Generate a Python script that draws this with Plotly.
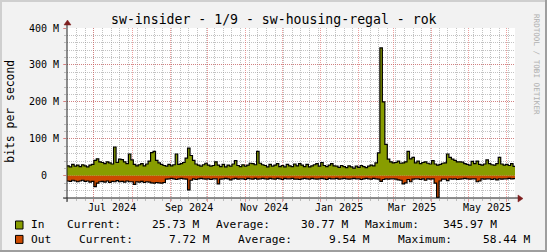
import pandas as pd
import plotly.graph_objects as go

# ---------------- data (values in Mbit/s, 2-day steps from 2024-06-09) ----------------
start_date = "2024-06-09"
in_vals = [27, 24, 31, 26, 29, 25, 30, 27, 24, 29, 31,
           42, 46, 38, 36, 33, 38, 35, 32,
           78, 36, 45, 44, 38, 33,
           59, 43, 31, 27, 30, 33, 27, 32, 40,
           63, 66, 42, 35, 31, 28, 26, 31, 27, 30,
           59, 31, 33, 36, 48,
           75, 55, 42, 32, 29, 26, 30, 34, 29, 26, 28,
           38, 29, 25, 31, 24, 29, 26, 32,
           41, 28, 25, 30, 26, 29, 34, 33, 30,
           66, 34, 30,
           28, 24, 31, 26, 29, 33, 25, 28, 24, 31, 27, 25, 32, 27,
           33,
           29, 25, 31, 24, 27, 30, 33, 26,
           36, 28, 25, 29, 33, 27,
           26, 23, 28, 25, 22, 27, 24, 21, 26, 23, 28, 25, 22, 26, 29, 27,
           35, 62, 345.97, 200, 85, 45, 38, 35, 36,
           40, 34, 35, 38, 66, 46, 50, 35, 40, 33, 36, 38, 34, 32,
           41, 32, 29, 31, 34, 35,
           59, 50, 45, 42, 38, 38, 37, 33, 31, 29,
           39, 33, 40, 31, 29, 32,
           43, 33, 30, 29, 33,
           50, 32, 29, 31, 28, 33, 25.73]
out_vals = [14, 15, 12, 14, 16, 14, 12, 15, 14, 17, 15,
            29, 20, 16, 15, 17, 14, 18, 15, 16, 13, 16, 15, 17, 14, 16, 16,
            23, 16, 17, 15, 18, 16, 17, 19, 20, 18, 19, 20, 18,
            9, 8, 7, 8, 10, 8, 7, 8, 9,
            38, 12,
            8, 10, 8, 7, 8, 9, 8,
            10, 8, 8, 22, 9,
            8, 7, 8, 11, 8, 7, 9, 8,
            8, 10,
            7, 8, 9, 7, 9, 8, 7, 8, 9, 7, 8, 9, 7, 8, 10, 7, 8, 8, 7, 9, 9,
            10,
            8, 7, 8, 9, 7, 8, 9, 8, 7, 8, 10, 7, 8, 8, 7, 9, 8, 7, 8, 9, 8, 7, 8, 8,
            10,
            8, 7, 8, 9, 7, 8, 9,
            15, 10,
            8, 9, 8, 8, 9,
            11, 12, 22, 19, 10, 16, 9,
            8, 8, 10, 8,
            12, 8, 9, 8,
            20, 58.44, 14,
            9, 9, 13,
            8, 9, 8, 10, 9, 8, 7, 8, 9, 8, 8,
            16, 14,
            8, 9, 8, 8, 10, 8,
            11,
            8, 9, 8, 8, 7, 8, 7.72]

series_names = ["In", "Out"]
legend_current = ["25.73 M", "7.72 M"]
legend_average = ["30.77 M", "9.54 M"]
legend_maximum = ["345.97 M", "58.44 M"]

y_tick_vals = [0, 100, 200, 300, 400]
y_tick_text = ["0\u00a0\u00a0", "100 M", "200 M", "300 M", "400 M"]
x_label_text = ["Jul 2024", "Sep 2024", "Nov 2024", "Jan 2025", "Mar 2025", "May 2025"]
x_label_months = ["2024-07-01", "2024-09-01", "2024-11-01", "2025-01-01", "2025-03-01", "2025-05-01"]

title_text = "sw-insider - 1/9 - sw-housing-regal - rok"
y_title = "bits per second"
watermark = "RRDTOOL / TOBI OETIKER"

# ---------------- styling ----------------
W, H = 547, 252
ML, MR, MT, MB = 67, 32, 28, 54
PW, PH = W - ML - MR, H - MT - MB
IN_COLOR = "#889D00"
OUT_COLOR = "#CC4A00"
BACK = "#F2F2F2"
SHADEA = "#CFCFCF"
SHADEB = "#9E9E9E"
GRID = "rgba(143,143,143,0.55)"
MGRID = "rgba(222,79,79,0.55)"
ARROW = "#7F1F1F"
AXIS = "#1F1F1F"
MONO = "DejaVu Sans Mono"


def px_x(p):
    return (p - ML) / PW


def px_y(p):
    return (H - MB - p) / PH


def steps(vals, sign=1):
    d = list(pd.date_range(start_date, periods=len(vals), freq="2D"))
    d.append(d[-1] + pd.Timedelta(days=2))
    v = [sign * x for x in vals] + [sign * vals[-1]]
    return d, v


fig = go.Figure()
for vals, sign, col in [(in_vals, 1, IN_COLOR), (out_vals, -1, OUT_COLOR)]:
    xd, yv = steps(vals, sign)
    fig.add_trace(go.Scatter(x=xd, y=yv, mode="lines",
                             line=dict(color="black", width=1.2, shape="hv"),
                             fill="tozeroy", fillcolor=col, hoverinfo="skip"))

month_starts = pd.date_range("2024-07-01", "2025-06-01", freq="MS")

fig.update_layout(
    width=W, height=H, autosize=False,
    margin=dict(l=ML, r=MR, t=MT, b=MB, pad=0),
    paper_bgcolor=BACK, plot_bgcolor="white",
    showlegend=False,
    xaxis=dict(
        type="date",
        range=["2024-06-09 05:00", "2025-06-07 14:00"],
        tickmode="array", tickvals=list(month_starts), ticktext=[""] * len(month_starts),
        showgrid=True, gridcolor=MGRID, griddash="1px,1px", gridwidth=1,
        ticks="outside", ticklen=3, tickcolor=MGRID,
        minor=dict(tick0="2024-07-01", dtick=7 * 86400000, showgrid=True,
                   gridcolor=GRID, griddash="1px,1px", ticks="outside", ticklen=2, tickcolor=GRID),
        showline=False, zeroline=False, fixedrange=True,
    ),
    yaxis=dict(
        range=[-60, 400],
        tickmode="array", tickvals=y_tick_vals, ticktext=y_tick_text,
        showgrid=True, gridcolor=MGRID, griddash="1px,1px", gridwidth=1,
        ticks="outside", ticklen=3, tickcolor=MGRID, ticklabelstandoff=2,
        tickfont=dict(family=MONO, size=10, color="black"),
        minor=dict(tick0=0, dtick=20, showgrid=True, gridcolor=GRID, griddash="1px,1px",
                   ticks="outside", ticklen=2, tickcolor=GRID),
        showline=False, zeroline=False, fixedrange=True,
    ),
)

annotations = []
for lab, m in zip(x_label_text, x_label_months):
    annotations.append(dict(x=pd.Timestamp(m) + pd.Timedelta(days=15), y=px_y(207.5),
                            xref="x", yref="paper", text=lab, showarrow=False,
                            xanchor="center", yanchor="middle", borderpad=0, borderwidth=0,
                            font=dict(family=MONO, size=10, color="black")))
annotations.append(dict(x=px_x(273.5), y=px_y(19.5), xref="paper", yref="paper", text=title_text,
                        showarrow=False, xanchor="center", yanchor="middle", borderpad=0, borderwidth=0,
                        font=dict(family=MONO, size=13.2, color="black")))
annotations.append(dict(x=px_x(10), y=px_y(111.7), xref="paper", yref="paper", text=y_title,
                        showarrow=False, textangle=-90, xanchor="center", yanchor="middle",
                        borderpad=0, borderwidth=0,
                        font=dict(family=MONO, size=11.4, color="black")))
annotations.append(dict(x=px_x(536.5), y=px_y(64.5), xref="paper", yref="paper", text=watermark,
                        showarrow=False, textangle=90, xanchor="center", yanchor="middle",
                        borderpad=0, borderwidth=0,
                        font=dict(family=MONO, size=7.6, color="#B0B0B0")))

row_y = [225.0, 239.4]
left_cols = [[(30.7, "name"), (67.3, "Current:"), (216.3, "Average:"), (365.3, "Maximum:")],
             [(30.7, "name"), (78.5, "Current:"), (238.3, "Average:"), (397.8, "Maximum:")]]
right_cols = [[199.0, 348.2, 497.2], [210.4, 369.9, 530.4]]
shapes = []
for r in range(2):
    vals_r = [legend_current[r], legend_average[r], legend_maximum[r]]
    for xpos, txt in left_cols[r]:
        t = series_names[r] if txt == "name" else txt
        annotations.append(dict(x=px_x(xpos), y=px_y(row_y[r]), xref="paper", yref="paper", text=t,
                                showarrow=False, xanchor="left", yanchor="middle", borderpad=0, borderwidth=0,
                                font=dict(family=MONO, size=11.2, color="black")))
    for xpos, t in zip(right_cols[r], vals_r):
        annotations.append(dict(x=px_x(xpos), y=px_y(row_y[r]), xref="paper", yref="paper", text=t,
                                showarrow=False, xanchor="right", yanchor="middle", borderpad=0, borderwidth=0,
                                font=dict(family=MONO, size=11.2, color="black")))
    col = IN_COLOR if r == 0 else OUT_COLOR
    shapes.append(dict(type="rect", xref="paper", yref="paper",
                       x0=px_x(15.5), x1=px_x(23), y0=px_y(row_y[r] - 4), y1=px_y(row_y[r] + 4),
                       fillcolor=col, line=dict(color="black", width=1)))

shapes += [
    dict(type="rect", xref="paper", yref="paper", x0=px_x(0), x1=px_x(W), y0=px_y(0), y1=px_y(2),
         fillcolor=SHADEA, line=dict(width=0), layer="below"),
    dict(type="rect", xref="paper", yref="paper", x0=px_x(0), x1=px_x(2), y0=px_y(0), y1=px_y(H),
         fillcolor=SHADEA, line=dict(width=0), layer="below"),
    dict(type="rect", xref="paper", yref="paper", x0=px_x(W - 2), x1=px_x(W), y0=px_y(0), y1=px_y(H),
         fillcolor=SHADEB, line=dict(width=0)),
    dict(type="rect", xref="paper", yref="paper", x0=px_x(0), x1=px_x(W), y0=px_y(H - 2), y1=px_y(H),
         fillcolor=SHADEB, line=dict(width=0)),
]
shapes += [
    dict(type="line", xref="paper", yref="paper", x0=px_x(ML - 4), x1=px_x(ML + PW + 4),
         y0=px_y(H - MB), y1=px_y(H - MB), line=dict(color=AXIS, width=1)),
    dict(type="line", xref="paper", yref="paper", x0=px_x(ML), x1=px_x(ML),
         y0=px_y(H - MB + 4), y1=px_y(MT - 4), line=dict(color=AXIS, width=1)),
]
xa = ML + PW
ya = H - MB
shapes.append(dict(type="path", xref="paper", yref="paper",
                   path=f"M {px_x(xa + 3)},{px_y(ya - 3)} L {px_x(xa + 3)},{px_y(ya + 4)} L {px_x(xa + 8)},{px_y(ya + 0.5)} Z",
                   fillcolor=ARROW, line=dict(color=ARROW, width=0.5)))
shapes.append(dict(type="path", xref="paper", yref="paper",
                   path=f"M {px_x(ML - 3)},{px_y(MT - 3)} L {px_x(ML + 4)},{px_y(MT - 3)} L {px_x(ML + 0.5)},{px_y(MT - 8)} Z",
                   fillcolor=ARROW, line=dict(color=ARROW, width=0.5)))

fig.update_layout(annotations=annotations, shapes=shapes)
fig.write_html("out.html", config={"displayModeBar": False, "staticPlot": True})
